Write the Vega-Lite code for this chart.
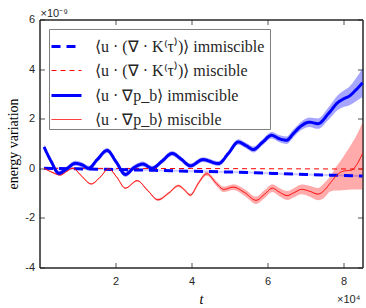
{
  "$schema": "https://vega.github.io/schema/vega-lite/v6.json",
  "width": 323,
  "height": 248,
  "autosize": {"type": "none"},
  "padding": {"left": 39.5, "top": 19.5, "right": 3.5, "bottom": 40.5},
  "background": "white",
  "config": {
    "view": {"stroke": "#262626", "strokeWidth": 1},
    "axis": {
      "labelFont": "Liberation Sans", "labelFontSize": 11, "labelColor": "#262626",
      "domainColor": "#262626", "tickColor": "#262626", "tickSize": -5, "tickWidth": 0.8,
      "grid": false, "titleFont": "Liberation Serif", "titleFontSize": 14,
      "titleFontWeight": "normal", "titleColor": "#000000"
    },
    "legend": {
      "orient": "none", "legendX": 9.5, "legendY": 9.5, "title": null,
      "fillColor": "white", "strokeColor": "#7f7f7f", "padding": 1, "rowPadding": -6,
      "symbolType": "stroke", "symbolSize": 900, "labelFont": "Liberation Serif",
      "labelFontSize": 16, "labelColor": "#262626", "labelOffset": 12, "labelLimit": 400
    }
  },
  "datasets": {
    "pts": [
      {"s": "Km", "t": 0.12, "v": 0.0},
      {"s": "Km", "t": 4.0, "v": -0.01},
      {"s": "Km", "t": 8.5, "v": -0.03},
      {"s": "Ki", "t": 0.12, "v": 0.0, "lo": -0.04, "hi": 0.04},
      {"s": "Ki", "t": 1.0, "v": -0.02, "lo": -0.06, "hi": 0.02},
      {"s": "Ki", "t": 2.0, "v": -0.05, "lo": -0.09, "hi": -0.01},
      {"s": "Ki", "t": 3.0, "v": -0.08, "lo": -0.12, "hi": -0.04},
      {"s": "Ki", "t": 4.0, "v": -0.12, "lo": -0.16, "hi": -0.08},
      {"s": "Ki", "t": 5.0, "v": -0.15, "lo": -0.19, "hi": -0.11},
      {"s": "Ki", "t": 6.0, "v": -0.2, "lo": -0.24, "hi": -0.16},
      {"s": "Ki", "t": 7.0, "v": -0.25, "lo": -0.29, "hi": -0.21},
      {"s": "Ki", "t": 8.0, "v": -0.29, "lo": -0.33, "hi": -0.25},
      {"s": "Ki", "t": 8.5, "v": -0.31, "lo": -0.35, "hi": -0.27},
      {"s": "pm", "t": 0.12, "v": 0.0, "lo": -0.03, "hi": 0.03},
      {"s": "pm", "t": 0.33, "v": -0.16, "lo": -0.19, "hi": -0.13},
      {"s": "pm", "t": 0.55, "v": -0.27, "lo": -0.3, "hi": -0.24},
      {"s": "pm", "t": 0.72, "v": -0.12, "lo": -0.15, "hi": -0.09},
      {"s": "pm", "t": 0.88, "v": 0.0, "lo": -0.03, "hi": 0.03},
      {"s": "pm", "t": 1.1, "v": -0.3, "lo": -0.33, "hi": -0.27},
      {"s": "pm", "t": 1.36, "v": -0.63, "lo": -0.66, "hi": -0.6},
      {"s": "pm", "t": 1.6, "v": -0.35, "lo": -0.38, "hi": -0.32},
      {"s": "pm", "t": 1.82, "v": -0.02, "lo": -0.05, "hi": 0.01},
      {"s": "pm", "t": 2.03, "v": -0.35, "lo": -0.38, "hi": -0.32},
      {"s": "pm", "t": 2.26, "v": -0.8, "lo": -0.83, "hi": -0.77},
      {"s": "pm", "t": 2.57, "v": -0.5, "lo": -0.53, "hi": -0.47},
      {"s": "pm", "t": 2.85, "v": -0.9, "lo": -0.94, "hi": -0.86},
      {"s": "pm", "t": 3.12, "v": -1.27, "lo": -1.32, "hi": -1.22},
      {"s": "pm", "t": 3.4, "v": -1.0, "lo": -1.05, "hi": -0.95},
      {"s": "pm", "t": 3.66, "v": -0.7, "lo": -0.75, "hi": -0.65},
      {"s": "pm", "t": 3.8, "v": -0.85, "lo": -0.9, "hi": -0.8},
      {"s": "pm", "t": 3.97, "v": -1.08, "lo": -1.14, "hi": -1.02},
      {"s": "pm", "t": 4.18, "v": -0.6, "lo": -0.67, "hi": -0.53},
      {"s": "pm", "t": 4.4, "v": -0.22, "lo": -0.3, "hi": -0.14},
      {"s": "pm", "t": 4.66, "v": -0.62, "lo": -0.72, "hi": -0.52},
      {"s": "pm", "t": 4.85, "v": -0.85, "lo": -0.96, "hi": -0.74},
      {"s": "pm", "t": 5.1, "v": -0.76, "lo": -0.88, "hi": -0.64},
      {"s": "pm", "t": 5.4, "v": -0.98, "lo": -1.12, "hi": -0.84},
      {"s": "pm", "t": 5.7, "v": -1.29, "lo": -1.44, "hi": -1.14},
      {"s": "pm", "t": 5.92, "v": -1.05, "lo": -1.21, "hi": -0.89},
      {"s": "pm", "t": 6.13, "v": -0.8, "lo": -0.96, "hi": -0.64},
      {"s": "pm", "t": 6.3, "v": -0.95, "lo": -1.12, "hi": -0.78},
      {"s": "pm", "t": 6.52, "v": -1.1, "lo": -1.28, "hi": -0.92},
      {"s": "pm", "t": 6.7, "v": -0.98, "lo": -1.17, "hi": -0.79},
      {"s": "pm", "t": 6.9, "v": -0.85, "lo": -1.05, "hi": -0.65},
      {"s": "pm", "t": 7.1, "v": -0.92, "lo": -1.14, "hi": -0.7},
      {"s": "pm", "t": 7.33, "v": -1.04, "lo": -1.29, "hi": -0.79},
      {"s": "pm", "t": 7.5, "v": -0.88, "lo": -1.18, "hi": -0.58},
      {"s": "pm", "t": 7.64, "v": -0.62, "lo": -0.95, "hi": -0.35},
      {"s": "pm", "t": 7.78, "v": -0.35, "lo": -0.9, "hi": 0.0},
      {"s": "pm", "t": 7.9, "v": -0.18, "lo": -0.9, "hi": 0.25},
      {"s": "pm", "t": 8.05, "v": -0.1, "lo": -0.88, "hi": 0.6},
      {"s": "pm", "t": 8.2, "v": -0.08, "lo": -0.85, "hi": 0.95},
      {"s": "pm", "t": 8.35, "v": 0.15, "lo": -0.85, "hi": 1.35},
      {"s": "pm", "t": 8.5, "v": 0.6, "lo": -0.85, "hi": 1.85},
      {"s": "pi", "t": 0.12, "v": 0.86, "lo": 0.76, "hi": 0.96},
      {"s": "pi", "t": 0.3, "v": 0.3, "lo": 0.2, "hi": 0.4},
      {"s": "pi", "t": 0.51, "v": -0.2, "lo": -0.3, "hi": -0.1},
      {"s": "pi", "t": 0.72, "v": -0.02, "lo": -0.12, "hi": 0.08},
      {"s": "pi", "t": 0.94, "v": 0.2, "lo": 0.1, "hi": 0.3},
      {"s": "pi", "t": 1.12, "v": 0.14, "lo": 0.04, "hi": 0.24},
      {"s": "pi", "t": 1.29, "v": 0.0, "lo": -0.1, "hi": 0.1},
      {"s": "pi", "t": 1.52, "v": 0.35, "lo": 0.25, "hi": 0.45},
      {"s": "pi", "t": 1.78, "v": 0.72, "lo": 0.62, "hi": 0.82},
      {"s": "pi", "t": 2.02, "v": 0.25, "lo": 0.15, "hi": 0.35},
      {"s": "pi", "t": 2.26, "v": -0.25, "lo": -0.35, "hi": -0.15},
      {"s": "pi", "t": 2.48, "v": 0.02, "lo": -0.08, "hi": 0.12},
      {"s": "pi", "t": 2.72, "v": 0.17, "lo": 0.07, "hi": 0.27},
      {"s": "pi", "t": 2.96, "v": 0.0, "lo": -0.1, "hi": 0.1},
      {"s": "pi", "t": 3.22, "v": 0.28, "lo": 0.18, "hi": 0.38},
      {"s": "pi", "t": 3.49, "v": 0.6, "lo": 0.5, "hi": 0.7},
      {"s": "pi", "t": 3.72, "v": 0.38, "lo": 0.28, "hi": 0.48},
      {"s": "pi", "t": 3.97, "v": 0.1, "lo": 0.0, "hi": 0.2},
      {"s": "pi", "t": 4.3, "v": 0.35, "lo": 0.25, "hi": 0.45},
      {"s": "pi", "t": 4.71, "v": 0.19, "lo": 0.09, "hi": 0.29},
      {"s": "pi", "t": 4.97, "v": 0.6, "lo": 0.5, "hi": 0.7},
      {"s": "pi", "t": 5.23, "v": 1.06, "lo": 0.95, "hi": 1.17},
      {"s": "pi", "t": 5.43, "v": 0.92, "lo": 0.81, "hi": 1.03},
      {"s": "pi", "t": 5.63, "v": 0.76, "lo": 0.64, "hi": 0.88},
      {"s": "pi", "t": 5.87, "v": 1.05, "lo": 0.93, "hi": 1.17},
      {"s": "pi", "t": 6.11, "v": 1.33, "lo": 1.2, "hi": 1.46},
      {"s": "pi", "t": 6.3, "v": 1.2, "lo": 1.06, "hi": 1.34},
      {"s": "pi", "t": 6.5, "v": 1.13, "lo": 0.98, "hi": 1.28},
      {"s": "pi", "t": 6.68, "v": 1.4, "lo": 1.24, "hi": 1.56},
      {"s": "pi", "t": 6.88, "v": 1.7, "lo": 1.53, "hi": 1.87},
      {"s": "pi", "t": 7.1, "v": 1.86, "lo": 1.67, "hi": 2.05},
      {"s": "pi", "t": 7.33, "v": 1.8, "lo": 1.59, "hi": 2.01},
      {"s": "pi", "t": 7.6, "v": 2.2, "lo": 1.95, "hi": 2.45},
      {"s": "pi", "t": 7.85, "v": 2.65, "lo": 2.35, "hi": 2.95},
      {"s": "pi", "t": 8.0, "v": 2.8, "lo": 2.47, "hi": 3.13},
      {"s": "pi", "t": 8.16, "v": 2.92, "lo": 2.54, "hi": 3.3},
      {"s": "pi", "t": 8.32, "v": 3.15, "lo": 2.69, "hi": 3.61},
      {"s": "pi", "t": 8.5, "v": 3.45, "lo": 2.87, "hi": 4.03}
    ]
  },
  "data": {"name": "pts"},
  "resolve": {"axis": {"x": "independent", "y": "independent"}},
  "layer": [
    {
      "transform": [{"filter": "datum.s == 'pi'"}],
      "mark": {"type": "area", "interpolate": "monotone", "color": "#0000ff", "opacity": 0.35},
      "encoding": {
        "x": {"field": "t", "type": "quantitative", "scale": {"domain": [0, 8.5], "nice": false, "zero": false}, "axis": null},
        "y": {"field": "lo", "type": "quantitative", "scale": {"domain": [-4, 6], "nice": false, "zero": false}, "axis": null},
        "y2": {"field": "hi"}
      }
    },
    {
      "transform": [{"filter": "datum.s == 'pm'"}],
      "mark": {"type": "area", "interpolate": "monotone", "color": "#ff0000", "opacity": 0.33},
      "encoding": {
        "x": {"field": "t", "type": "quantitative", "axis": null},
        "y": {"field": "lo", "type": "quantitative", "axis": null},
        "y2": {"field": "hi"}
      }
    },
    {
      "transform": [{"filter": "datum.s == 'Ki'"}],
      "mark": {"type": "area", "interpolate": "monotone", "color": "#0000ff", "opacity": 0.2},
      "encoding": {
        "x": {"field": "t", "type": "quantitative", "axis": {"orient": "top", "values": [2, 4, 6, 8], "labels": false, "title": "×10⁻⁹", "titleFont": "Liberation Sans", "titleFontSize": 11, "titleColor": "#262626", "titleX": 0.5, "titleY": -3, "titleAlign": "left", "titleAngle": 0, "titleBaseline": "alphabetic"}},
        "y": {"field": "lo", "type": "quantitative", "axis": {"orient": "right", "values": [-4, -2, 0, 2, 4, 6], "labels": false, "title": "×10⁴", "titleFont": "Liberation Sans", "titleFontSize": 11, "titleColor": "#262626", "titleX": -26, "titleY": 283, "titleAlign": "left", "titleAngle": 0, "titleBaseline": "alphabetic"}},
        "y2": {"field": "hi"}
      }
    },
    {
      "mark": {"type": "line", "interpolate": "monotone"},
      "encoding": {
        "x": {"field": "t", "type": "quantitative", "axis": {"orient": "bottom", "values": [2, 4, 6, 8], "labelExpr": "'' + datum.value", "labelPadding": 13, "title": "t", "titleFontStyle": "italic", "titleX": 161.5, "titleY": 32, "titleBaseline": "middle"}},
        "y": {"field": "v", "type": "quantitative", "axis": {"orient": "left", "values": [-4, -2, 0, 2, 4, 6], "labelExpr": "'' + datum.value", "labelPadding": 10, "title": "energy variation", "titleX": -26, "titleY": 124, "titleBaseline": "middle"}},
        "color": {"field": "s", "type": "nominal", "scale": {"type": "ordinal", "domain": ["Ki", "Km", "pi", "pm"], "range": ["#0000ff", "#ff0000", "#0000ff", "#ff0000"]},
          "legend": {"labelExpr": "datum.label == 'Ki' ? '⟨u · (∇ · K⁽τ⁾)⟩  immiscible' : datum.label == 'Km' ? '⟨u · (∇ · K⁽τ⁾)⟩  miscible' : datum.label == 'pi' ? '⟨u · ∇p_b⟩ immiscible' : '⟨u · ∇p_b⟩ miscible'"}},
        "strokeDash": {"field": "s", "type": "nominal", "scale": {"type": "ordinal", "domain": ["Ki", "Km", "pi", "pm"], "range": [[9, 6], [5, 4], [1, 0], [1, 0]]},
          "legend": {"labelExpr": "datum.label == 'Ki' ? '⟨u · (∇ · K⁽τ⁾)⟩  immiscible' : datum.label == 'Km' ? '⟨u · (∇ · K⁽τ⁾)⟩  miscible' : datum.label == 'pi' ? '⟨u · ∇p_b⟩ immiscible' : '⟨u · ∇p_b⟩ miscible'"}},
        "strokeWidth": {"field": "s", "type": "nominal", "scale": {"type": "ordinal", "domain": ["Ki", "Km", "pi", "pm"], "range": [3, 1, 3, 1]},
          "legend": {"labelExpr": "datum.label == 'Ki' ? '⟨u · (∇ · K⁽τ⁾)⟩  immiscible' : datum.label == 'Km' ? '⟨u · (∇ · K⁽τ⁾)⟩  miscible' : datum.label == 'pi' ? '⟨u · ∇p_b⟩ immiscible' : '⟨u · ∇p_b⟩ miscible'"}}
      }
    }
  ]
}
